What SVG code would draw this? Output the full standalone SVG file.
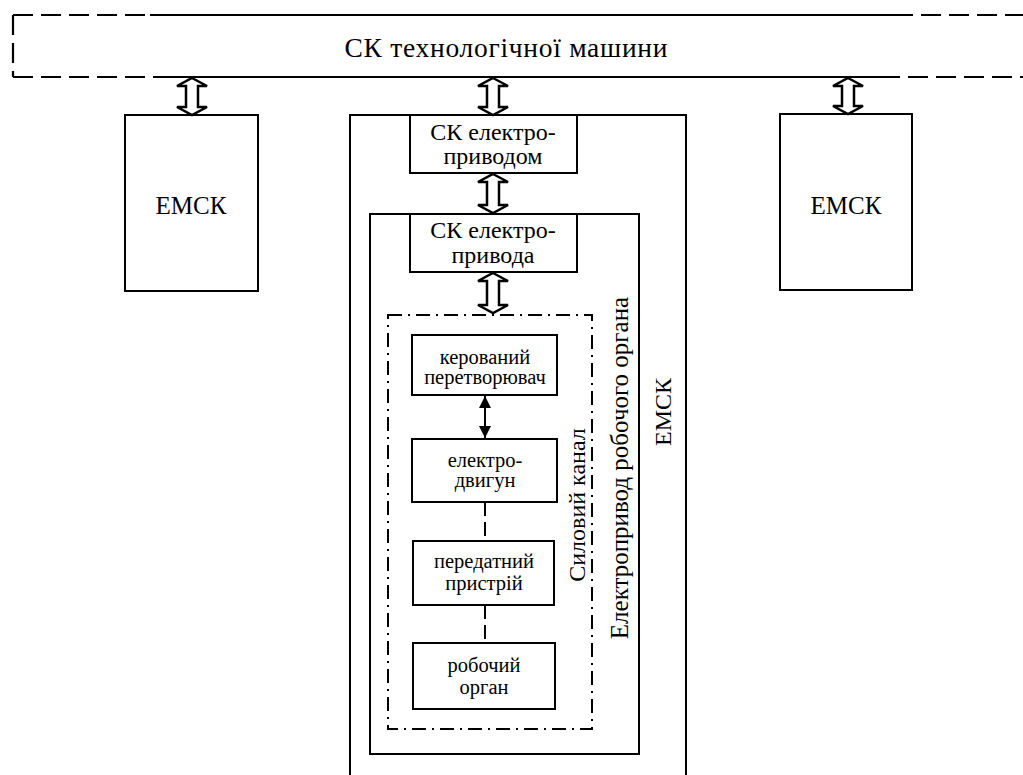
<svg xmlns="http://www.w3.org/2000/svg" width="1023" height="775" viewBox="0 0 1023 775">
<style>
  .box{fill:none;stroke:#000;stroke-width:2}
  .t{font-family:"Liberation Serif","Times New Roman",serif;fill:#000;text-anchor:middle}
  .big{font-size:25px}
  .mid{font-size:24px}
  .sm{font-size:20.5px}
  .dashed{fill:none;stroke:#000;stroke-width:2.2;stroke-dasharray:20 8}
  .solid{fill:none;stroke:#000;stroke-width:2.2}
  .dashdot{fill:none;stroke:#000;stroke-width:2;stroke-dasharray:14 6 2 6}
  .link{fill:none;stroke:#000;stroke-width:2;stroke-dasharray:14 6}
  .harrow{fill:#fff;stroke:#000;stroke-width:2.5;stroke-linejoin:miter}
</style>
<defs>
  <marker id="ah" viewBox="0 0 10 10" refX="10" refY="5" markerWidth="6" markerHeight="6" orient="auto-start-reverse" markerUnits="strokeWidth">
    <path d="M0,0 L10,5 L0,10 Z" fill="#000"/>
  </marker>
</defs>
<rect width="1023" height="775" fill="#fff"/>

<g id="sk-tech">
  <path class="dashed" d="M13,15 L150,15 M893,15 L1030,15 M13,77 L165,77 M880,77 L1030,77 M13,15 L13,77"/>
  <path class="solid" d="M150,15 L893,15 M165,77 L880,77"/>
  <text class="t" font-size="27.5" x="506" y="57" textLength="323" lengthAdjust="spacing">СК технологічної машини</text>
</g>

<g id="emsk-left">
  <rect class="box" x="125" y="115" width="133" height="176"/>
  <text class="t big" x="191" y="214">ЕМСК</text>
</g>

<g id="emsk-right">
  <rect class="box" x="780" y="114" width="132" height="176"/>
  <text class="t big" x="846" y="214">ЕМСК</text>
</g>

<g id="emsk-center">
  <path class="box" d="M350,776 L350,115 L686,115 L686,776"/>
  <text class="t mid" transform="translate(671,412) rotate(-90)">ЕМСК</text>
</g>

<g id="sk-pryvodom">
  <rect class="box" x="410" y="115" width="167" height="58"/>
  <text class="t mid" x="493" y="140">СК електро-</text>
  <text class="t mid" x="493" y="164">приводом</text>
</g>

<g id="elektropryvod">
  <rect class="box" x="370" y="214" width="269" height="540"/>
  <text class="t" font-size="25" transform="translate(628,468) rotate(-90)">Електропривод робочого органа</text>
</g>

<g id="sk-pryvoda">
  <rect class="box" x="410" y="214" width="167" height="58"/>
  <text class="t mid" x="493" y="238">СК електро-</text>
  <text class="t mid" x="493" y="263">привода</text>
</g>

<g id="sylovyi-kanal">
  <rect class="dashdot" x="388" y="315" width="204" height="414"/>
  <text class="t mid" transform="translate(585,505) rotate(-90)">Силовий канал</text>
</g>

<g id="peretvoriuvach">
  <rect class="box" x="412" y="335" width="145" height="60"/>
  <text class="t sm" x="485" y="364">керований</text>
  <text class="t sm" x="485" y="384">перетворювач</text>
</g>

<g id="dvygun">
  <rect class="box" x="412" y="439" width="145" height="63"/>
  <text class="t sm" x="485" y="467">електро-</text>
  <text class="t sm" x="485" y="487">двигун</text>
</g>

<g id="peredatnyi">
  <rect class="box" x="413" y="541" width="141" height="64"/>
  <text class="t sm" x="484" y="568">передатний</text>
  <text class="t sm" x="484" y="590">пристрій</text>
</g>

<g id="robochyi">
  <rect class="box" x="413" y="643" width="142" height="66"/>
  <text class="t sm" x="484" y="672">робочий</text>
  <text class="t sm" x="484" y="694">орган</text>
</g>

<g id="connectors">
  <path class="harrow" d="M192,78 L207,86 L198,86 L198,107 L207,107 L192,115 L177,107 L186,107 L186,86 L177,86 Z"/>
  <path class="harrow" d="M493,78 L508,86 L499,86 L499,107 L508,107 L493,115 L478,107 L487,107 L487,86 L478,86 Z"/>
  <path class="harrow" d="M848,78 L863,86 L854,86 L854,106 L863,106 L848,114 L833,106 L842,106 L842,86 L833,86 Z"/>
  <path class="harrow" d="M493,174 L508,182 L499,182 L499,205 L508,205 L493,213 L478,205 L487,205 L487,182 L478,182 Z"/>
  <path class="harrow" d="M493,273 L508,281 L499,281 L499,305 L508,305 L493,313 L478,305 L487,305 L487,281 L478,281 Z"/>
  <line x1="485" y1="396" x2="485" y2="438" stroke="#000" stroke-width="2" marker-start="url(#ah)" marker-end="url(#ah)"/>
  <line class="link" x1="485" y1="502" x2="485" y2="541"/>
  <line class="link" x1="485" y1="605" x2="485" y2="643"/>
</g>
</svg>
